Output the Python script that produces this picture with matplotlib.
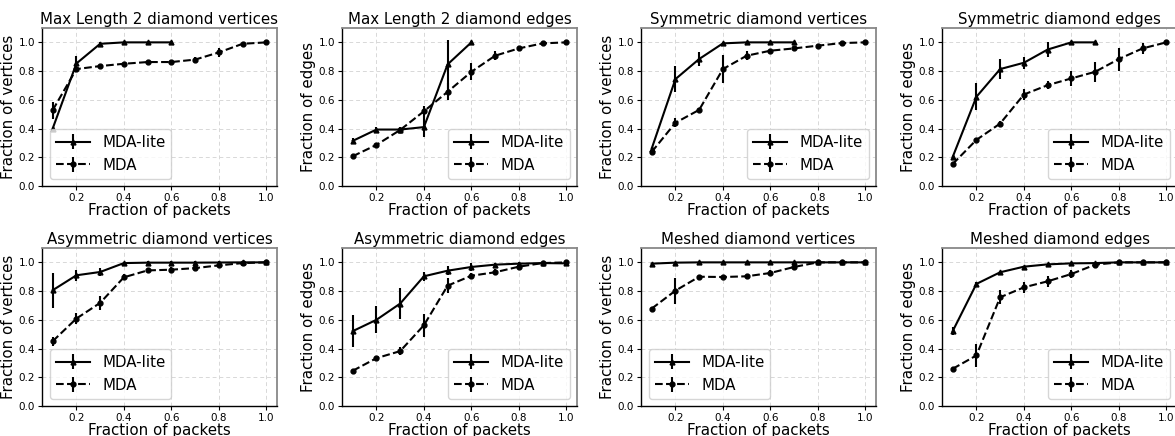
import numpy as np
import matplotlib
matplotlib.use("Agg")
import matplotlib.pyplot as plt

# fraction of packets
frac = [0.1, 0.2, 0.3, 0.4, 0.5, 0.6, 0.7, 0.8, 0.9, 1.0]

titles = ["Max Length 2 diamond vertices", "Max Length 2 diamond edges",
          "Symmetric diamond vertices", "Symmetric diamond edges",
          "Asymmetric diamond vertices", "Asymmetric diamond edges",
          "Meshed diamond vertices", "Meshed diamond edges"]
ylabels = ["Fraction of vertices", "Fraction of edges"] * 4
legend_loc = ["lower left", "lower right", "lower right", "lower right",
              "lower left", "lower right", "lower left", "lower right"]

# MDA-lite (mean, error)
lite_ml2_v = [0.40, 0.853, 0.99, 1.0, 1.0, 1.0]
lite_ml2_v_err = [0.01, 0.055, 0.01, 0.0, 0.0, 0.0]
lite_ml2_e = [0.314, 0.393, 0.393, 0.41, 0.847, 1.0]
lite_ml2_e_err = [0.02, 0.015, 0.02, 0.07, 0.17, 0.0]
lite_sym_v = [0.26, 0.744, 0.884, 0.993, 1.0, 1.0, 1.0]
lite_sym_v_err = [0.01, 0.09, 0.05, 0.01, 0.0, 0.0, 0.0]
lite_sym_e = [0.202, 0.621, 0.814, 0.858, 0.95, 1.0, 1.0]
lite_sym_e_err = [0.01, 0.093, 0.07, 0.04, 0.05, 0.0, 0.0]
lite_asym_v = [0.806, 0.91, 0.933, 0.995, 0.998, 0.998, 0.998, 0.999, 1.0, 1.0]
lite_asym_v_err = [0.122, 0.04, 0.03, 0.01, 0.01, 0.01, 0.01, 0.01, 0.0, 0.0]
lite_asym_e = [0.521, 0.60, 0.713, 0.903, 0.942, 0.968, 0.984, 0.991, 0.995, 0.993]
lite_asym_e_err = [0.11, 0.095, 0.11, 0.03, 0.03, 0.03, 0.015, 0.01, 0.005, 0.005]
lite_mesh_v = [0.991, 0.998, 1.0, 1.0, 1.0, 1.0, 1.0, 1.0, 1.0, 1.0]
lite_mesh_v_err = [0.005, 0.003, 0.0, 0.0, 0.0, 0.0, 0.0, 0.0, 0.0, 0.0]
lite_mesh_e = [0.521, 0.85, 0.931, 0.97, 0.986, 0.993, 0.995, 1.0, 1.0, 1.0]
lite_mesh_e_err = [0.03, 0.01, 0.01, 0.005, 0.005, 0.003, 0.003, 0.0, 0.0, 0.0]

# MDA (mean, error)
mda_ml2_v = [0.528, 0.814, 0.835, 0.851, 0.863, 0.863, 0.88, 0.93, 0.99, 1.0]
mda_ml2_v_err = [0.06, 0.02, 0.01, 0.01, 0.01, 0.01, 0.015, 0.03, 0.01, 0.0]
mda_ml2_e = [0.207, 0.286, 0.39, 0.52, 0.656, 0.795, 0.907, 0.958, 0.993, 1.0]
mda_ml2_e_err = [0.01, 0.01, 0.02, 0.04, 0.06, 0.06, 0.03, 0.01, 0.005, 0.0]
mda_sym_v = [0.237, 0.44, 0.53, 0.814, 0.907, 0.942, 0.958, 0.977, 0.995, 1.0]
mda_sym_v_err = [0.01, 0.03, 0.015, 0.095, 0.03, 0.01, 0.01, 0.005, 0.003, 0.0]
mda_sym_e = [0.153, 0.321, 0.435, 0.637, 0.702, 0.749, 0.795, 0.884, 0.958, 1.0]
mda_sym_e_err = [0.01, 0.01, 0.02, 0.04, 0.03, 0.05, 0.07, 0.08, 0.04, 0.0]
mda_asym_v = [0.451, 0.609, 0.718, 0.896, 0.944, 0.949, 0.96, 0.979, 0.995, 1.0]
mda_asym_v_err = [0.03, 0.04, 0.05, 0.02, 0.02, 0.02, 0.015, 0.01, 0.005, 0.0]
mda_asym_e = [0.245, 0.333, 0.382, 0.562, 0.838, 0.907, 0.931, 0.97, 0.995, 1.0]
mda_asym_e_err = [0.01, 0.01, 0.03, 0.08, 0.05, 0.02, 0.02, 0.01, 0.005, 0.0]
mda_mesh_v = [0.678, 0.803, 0.90, 0.898, 0.903, 0.926, 0.968, 1.0, 1.0, 1.0]
mda_mesh_v_err = [0.01, 0.09, 0.01, 0.005, 0.01, 0.02, 0.02, 0.0, 0.0, 0.0]
mda_mesh_e = [0.259, 0.352, 0.757, 0.826, 0.868, 0.919, 0.984, 1.0, 1.0, 1.0]
mda_mesh_e_err = [0.01, 0.08, 0.05, 0.04, 0.04, 0.03, 0.01, 0.0, 0.0, 0.0]

lite = [(lite_ml2_v, lite_ml2_v_err), (lite_ml2_e, lite_ml2_e_err),
        (lite_sym_v, lite_sym_v_err), (lite_sym_e, lite_sym_e_err),
        (lite_asym_v, lite_asym_v_err), (lite_asym_e, lite_asym_e_err),
        (lite_mesh_v, lite_mesh_v_err), (lite_mesh_e, lite_mesh_e_err)]
mda = [(mda_ml2_v, mda_ml2_v_err), (mda_ml2_e, mda_ml2_e_err),
       (mda_sym_v, mda_sym_v_err), (mda_sym_e, mda_sym_e_err),
       (mda_asym_v, mda_asym_v_err), (mda_asym_e, mda_asym_e_err),
       (mda_mesh_v, mda_mesh_v_err), (mda_mesh_e, mda_mesh_e_err)]

W, H = 1175, 436
fig = plt.figure(figsize=(W / 100, H / 100), dpi=100)

# axes placed by pixel, last column runs past the right edge as in the original
lefts = [42, 342, 641, 942]
bottoms = [186, 406]
aw, ah = 235, 158

fs = 10.8
for i in range(8):
    r, c = divmod(i, 4)
    ax = fig.add_axes([lefts[c] / W, (H - bottoms[r]) / H, aw / W, ah / H])

    y, e = lite[i]
    ax.errorbar(frac[:len(y)], y, yerr=e, fmt='-', marker='^', ms=3.5,
                color='black', lw=1.5, elinewidth=1.5, capsize=0, label='MDA-lite')
    y, e = mda[i]
    ax.errorbar(frac[:len(y)], y, yerr=e, fmt='--', marker='o', ms=3.5,
                color='black', lw=1.5, elinewidth=1.5, capsize=0, label='MDA')

    ax.set_ylim(0, 1.1)
    ax.set_xticks([0.2, 0.4, 0.6, 0.8, 1.0])
    ax.set_yticks([0.0, 0.2, 0.4, 0.6, 0.8, 1.0])
    ax.tick_params(labelsize=7.5, length=3, pad=2)
    ax.grid(True, linestyle=(0, (4, 3)), color='#d8d8d8', lw=0.7)
    for s in ['top', 'right']:
        ax.spines[s].set_color('#888888')
        ax.spines[s].set_linewidth(1.3)
    for s in ['left', 'bottom']:
        ax.spines[s].set_linewidth(1.0)

    ax.set_title(titles[i], fontsize=fs, pad=3)
    ax.set_xlabel('Fraction of packets', fontsize=fs, labelpad=0)
    ax.set_ylabel(ylabels[i], fontsize=fs, labelpad=2)
    ax.legend(loc=legend_loc[i], fontsize=fs, handlelength=2.3)

fig.savefig('out.png', dpi=100)
